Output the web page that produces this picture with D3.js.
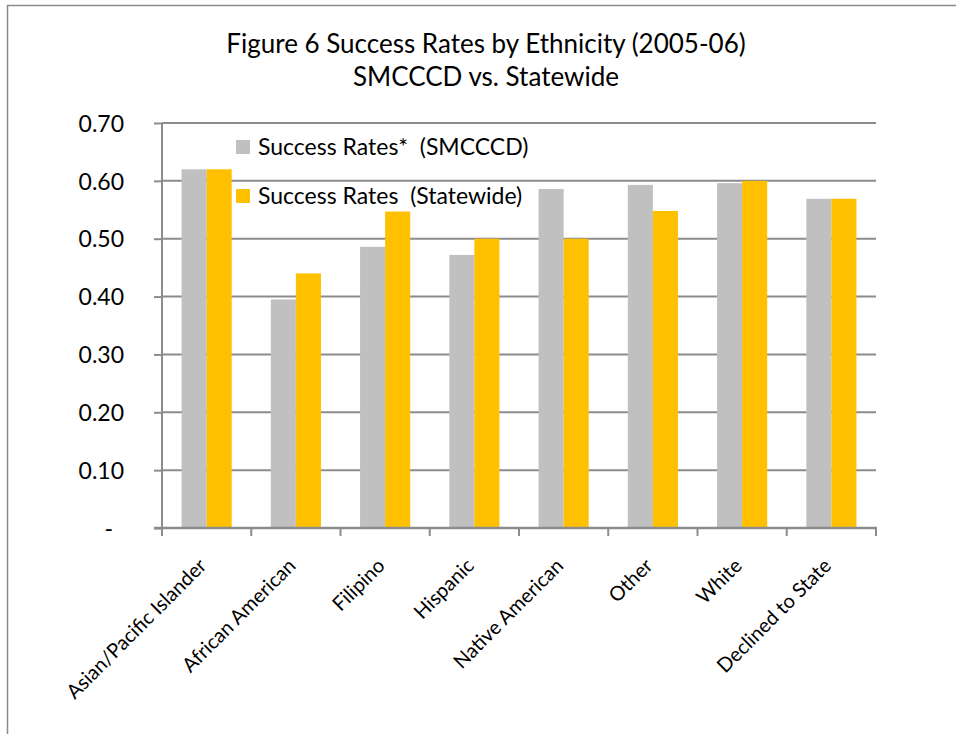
<!DOCTYPE html>
<html>
<head>
<meta charset="utf-8">
<script src="https://cdn.jsdelivr.net/npm/d3@7"></script>
<style>
  body { margin: 0; background: #fff; }
  svg { display: block; font-family: Lato, "Open Sans", sans-serif; }
</style>
</head>
<body>
<svg width="956" height="734"></svg>
<script>
// data
var categories = ["Asian/Pacific Islander", "African American", "Filipino", "Hispanic",
                  "Native American", "Other", "White", "Declined to State"];
var seriesNames = ["Success Rates*  (SMCCCD)", "Success Rates  (Statewide)"];
var smcccd    = [0.620, 0.395, 0.486, 0.472, 0.586, 0.593, 0.596, 0.569];
var statewide = [0.620, 0.440, 0.547, 0.500, 0.500, 0.548, 0.600, 0.569];
var yTicks = [0, 0.1, 0.2, 0.3, 0.4, 0.5, 0.6, 0.7];
var colors = ["#c0c0c0", "#ffc000"];

var svg = d3.select("svg");

// outer chart frame (only top + left edges are visible in the picture)
svg.append("rect")
    .attr("x", 7.5).attr("y", 5.5)
    .attr("width", 1000).attr("height", 1000)
    .attr("fill", "none")
    .attr("stroke", "#8a8a8a")
    .attr("stroke-width", 1.5);

var plotLeft = 162, plotRight = 876, plotTop = 123, plotBottom = 528;

var y = d3.scaleLinear().domain([0, 0.7]).range([plotBottom, plotTop]);

var x0 = d3.scaleBand().domain(categories).range([plotLeft, plotRight]);
var x1 = d3.scaleBand().domain([0, 1]).range([0, x0.bandwidth()]).paddingOuter(0.78);

// title
var title = svg.append("text")
    .attr("text-anchor", "middle")
    .attr("font-size", 26)
    .attr("fill", "#000");
title.append("tspan").attr("x", 486).attr("y", 53).text("Figure 6 Success Rates by Ethnicity (2005-06)");
title.append("tspan").attr("x", 486).attr("y", 86).text("SMCCCD vs. Statewide");

// gridlines
svg.append("g")
    .selectAll("line")
    .data(yTicks.slice(1))
    .enter().append("line")
    .attr("x1", plotLeft).attr("x2", plotRight)
    .attr("y1", function(d) { return y(d); })
    .attr("y2", function(d) { return y(d); })
    .attr("stroke", "#8c8c8c")
    .attr("stroke-width", 2);

// bars
var groups = svg.append("g")
    .selectAll("g")
    .data(categories)
    .enter().append("g")
    .attr("transform", function(d) { return "translate(" + x0(d) + ",0)"; });

groups.selectAll("rect")
    .data(function(d, i) { return [smcccd[i], statewide[i]]; })
    .enter().append("rect")
    .attr("x", function(d, j) { return x1(j); })
    .attr("y", function(d) { return y(d); })
    .attr("width", x1.bandwidth())
    .attr("height", function(d) { return y(0) - y(d); })
    .attr("fill", function(d, j) { return colors[j]; });

/* --------- y-axis --------- */
var yAxis = svg.append("g")
    .attr("transform", "translate(" + plotLeft + ",0)")
    .call(d3.axisLeft(y).tickValues(yTicks).tickSize(8).tickPadding(0)
        .tickFormat(function(d) { return d === 0 ? "-" : d3.format(".2f")(d); }));
yAxis.select(".domain").remove();
yAxis.selectAll("line").attr("stroke", "#8c8c8c").attr("stroke-width", 2);
yAxis.selectAll("text")
    .attr("x", function(d) { return d === 0 ? -49 : -38; })
    .attr("dy", "0.36em")
    .attr("font-size", 23)
    .attr("font-family", "Lato, sans-serif")
    .attr("fill", "#000");
svg.append("line")
    .attr("x1", plotLeft).attr("x2", plotLeft)
    .attr("y1", plotTop).attr("y2", plotBottom + 8)
    .attr("stroke", "#8c8c8c").attr("stroke-width", 2);

/* --------- x-axis --------- */
svg.append("line")
    .attr("x1", plotLeft - 8).attr("x2", plotRight + 1)
    .attr("y1", plotBottom).attr("y2", plotBottom)
    .attr("stroke", "#8c8c8c").attr("stroke-width", 2.5);
svg.append("g")
    .selectAll("line")
    .data(d3.range(categories.length + 1))
    .enter().append("line")
    .attr("x1", function(i) { return plotLeft + i * x0.step(); })
    .attr("x2", function(i) { return plotLeft + i * x0.step(); })
    .attr("y1", plotBottom).attr("y2", plotBottom + 8)
    .attr("stroke", "#8c8c8c").attr("stroke-width", 2);

svg.append("g")
    .selectAll("text")
    .data(categories)
    .enter().append("text")
    .attr("transform", function(d) {
        return "translate(" + (x0(d) + x0.bandwidth() / 2 + 1) + "," + 567 + ") rotate(-45)";
    })
    .attr("text-anchor", "end")
    .attr("font-size", 20)
    .attr("fill", "#000")
    .text(function(d) { return d; });

/* --------- legend --------- */
var legend = svg.append("g")
    .selectAll("g")
    .data(seriesNames)
    .enter().append("g")
    .attr("transform", function(d, i) { return "translate(236," + (140 + i * 49) + ")"; });
legend.append("rect")
    .attr("width", 14).attr("height", 14)
    .attr("fill", function(d, i) { return colors[i]; });
legend.append("text")
    .attr("x", 22)
    .attr("y", 15)
    .attr("font-size", 23)
    .attr("fill", "#000")
    .attr("xml:space", "preserve")
    .style("white-space", "pre")
    .text(function(d) { return d; });
</script>
</body>
</html>
